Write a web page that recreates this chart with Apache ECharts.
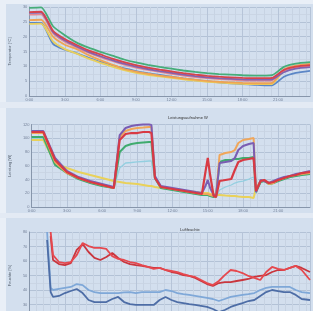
<!DOCTYPE html>
<html>
<head>
<meta charset="utf-8">
<title>Messwerte</title>
<script src="https://cdn.jsdelivr.net/npm/echarts@6/dist/echarts.min.js"></script>
<style>
html,body{margin:0;padding:0;overflow:hidden;background:#d3dfee;}
#chart{width:313px;height:330px;}
</style>
</head>
<body>
<div id="chart"></div>
<script>
// Temperatur (oben)
var hours1 = [0,1,2,3,4,5,6,7,8,9,10,11,12,13,14,15,16,17,18,19,20,20.5,21.5,22.5,23.7];
var temp1 = [29.7,29.9,23.5,20.5,18.0,16.3,14.9,13.6,12.3,11.3,10.5,9.8,9.2,8.6,8.1,7.7,7.4,7.2,7.0,6.9,6.9,7.0,9.8,10.9,11.4];
var temp2 = [28.3,28.4,22.0,19.2,17.2,15.4,14.0,12.6,11.4,10.4,9.6,8.9,8.3,7.7,7.2,6.8,6.5,6.3,6.1,6.0,6.0,6.1,8.8,9.9,10.4];
var temp3 = [28.0,28.1,21.6,18.7,16.7,14.9,13.4,12.1,10.9,9.9,9.1,8.4,7.8,7.2,6.7,6.3,6.0,5.8,5.6,5.5,5.5,5.6,8.0,9.2,9.7];
var temp4 = [27.4,27.5,21.2,18.3,16.4,14.6,13.1,11.8,10.6,9.6,8.8,8.1,7.5,6.9,6.4,6.0,5.7,5.5,5.3,5.2,5.2,5.3,8.4,9.6,10.2];
var temp5 = [25.6,25.7,20.0,17.3,15.8,13.8,12.1,10.6,9.1,8.2,7.5,6.9,6.4,5.9,5.5,5.1,4.8,4.6,4.4,4.3,4.3,4.4,8.9,10.2,10.8];
var temp6 = [24.3,24.4,18.4,15.8,14.3,12.6,11.2,9.9,8.7,7.8,7.1,6.6,6.1,5.6,5.2,4.8,4.5,4.3,4.1,4.0,4.0,4.1,8.5,9.8,10.5];
var temp7 = [24.6,24.6,17.6,15.6,14.4,12.9,11.5,10.3,9.3,8.4,7.7,7.1,6.5,5.9,5.4,5.0,4.6,4.3,4.0,3.8,3.6,3.6,6.5,7.8,8.5];

// Leistungsaufnahme (Mitte)
var hours2 = [0,1,2,3,4,5,6,7,7.1,7.5,8,8.5,9,9.5,10,10.2,10.5,11,12,13,14,14.5,14.8,15,15.2,15.5,15.7,16,16.5,17,17.3,17.6,18,18.5,18.9,19.1,19.5,19.8,20.2,20.6,21,21.5,22,22.5,23,23.7];
var powRed = [109.1,109.1,68.4,50.9,42.2,36.4,32,27.6,29.1,97.5,106.2,107.6,107.6,109.1,109.1,107.6,42.2,29.1,26.2,23.3,20.4,18.9,50.9,71.3,46.5,16,14.5,37.8,39.3,40.7,53.8,65.5,68.4,69.8,71.3,23.3,37.8,39.3,34.9,36.4,39.3,42.2,45.1,46.5,49.4,50.9];
var powPurple = [110.5,110.5,71.3,52.4,43.6,37.8,33.5,29.1,30.5,104.7,114.9,117.8,119.3,120,120,119.3,45.1,30.5,27.6,24.7,21.8,20.4,30.5,39.3,27.6,17.5,16,64,65.5,66.9,71.3,82.9,88.7,91.6,93.1,21.8,39.3,37.8,34.9,37.8,40.7,43.6,45.1,48,49.4,52.4];
var powOrange = [107.6,107.6,65.5,49.4,42.2,36.4,32,27.6,29.1,101.8,110.5,113.5,114.9,115.6,116.4,116.4,43.6,29.1,26.2,23.3,20.4,18.9,18.9,18.9,17.5,16,14.5,75.6,78.5,80,82.9,93.1,97.5,98.9,100.4,24.7,37.8,39.3,33.5,34.9,39.3,42.2,45.1,46.5,48,49.4];
var powGreen = [101.8,101.8,61.1,49.4,40.7,34.9,30.5,27.6,29.1,80,88.7,91.6,93.1,93.8,94.5,94.5,42.2,27.6,24.7,21.8,18.9,17.5,17.5,17.5,16,14.5,14.5,65.5,68.4,68.4,69.8,69.8,71.3,71.3,72.7,21.8,36.4,37.8,33.5,34.9,37.8,40.7,43.6,45.1,46.5,48];
var powCyan = [100.4,100.4,64,49.4,40.7,34.9,30.5,27.6,29.1,56.7,64,64.7,65.5,66.2,66.9,66.9,40.7,27.6,24.7,21.8,18.9,17.5,17.5,17.5,16,14.5,14.5,24.7,29.1,32,34.9,36.4,37.8,40.7,43.6,20.4,36.4,37.8,33.5,34.9,37.8,40.7,43.6,45.1,46.5,48];
var powYellow = [97.5,97.5,64,56.7,50.9,46.5,42.2,37.8,37.8,36.4,34.9,34.2,33.5,32,30.5,30.5,29.1,27.6,26.2,23.3,21.8,20.4,20.4,20.4,18.9,18.9,17.5,17.5,16.7,16,16,15.3,14.5,14.5,13.1,27.6,37.8,37.8,33.5,34.9,39.3,42.2,43.6,46.5,48,49.4];

// Luftfeuchte (unten)
var hours3 = [1.3,1.5,1.8,2,2.5,3,3.5,4,4.5,5,5.5,6,6.5,7,7.5,8,8.5,9,9.5,10,10.5,11,11.5,12,12.5,13,13.5,14,14.5,15,15.5,16,16.5,17,17.5,18,18.5,19,19.5,20,20.5,21,21.5,22,22.5,23,23.7];
var humRedA = [null,null,80,64.1,59.3,58.6,59.3,64.1,72.4,70.3,69,69,68.3,63.4,61.4,60.7,59.3,58.6,57.2,55.9,54.5,55.2,53.8,53.1,52.4,51,49.7,49,46.9,44.8,43.4,46.2,50.3,53.8,53.1,51.7,49.7,48.3,46.9,52.4,55.9,54.5,53.8,55.2,56.6,53.8,46.9];
var humRedB = [null,null,77.2,60.7,57.9,57.2,58.6,67.6,71.7,66.2,62.1,60.7,62.8,65.5,62.1,59.3,57.9,57.2,56.6,55.9,55.2,55.2,53.8,52.4,51.7,50.3,49.7,48.3,46.2,44.1,42.8,44.8,45.5,45.5,46.2,46.9,47.6,49,49.7,50.3,52.4,53.8,53.8,55.2,56.6,55.2,52.4];
var humBlueA = [null,80,41.4,40,40.7,41.4,42.1,44.1,43.4,40,38.6,37.9,37.9,37.9,37.9,38.3,38.6,37.9,38.6,38.6,38.6,38.6,40,39.3,37.9,37.2,36.6,35.9,35.2,34.5,33.8,32.4,33.8,35.2,35.9,36.6,37.2,37.9,40,41.4,42.1,42.1,42.1,42.1,40,38.6,37.9];
var humBlueB = [null,74.5,38.6,35.2,35.9,37.9,39.3,40.7,37.9,33.1,31.7,31.7,31.7,33.8,35.2,31.7,30.3,29.7,29.7,29.7,29.7,33.1,35.2,33.1,31.7,31,30.3,29.7,29,28.3,26.9,24.8,26.2,28.3,29.7,31,32.4,33.1,35.9,38.6,40,39.3,38.6,38.6,36.6,33.8,33.1];

var hourTicks = 3;

function pts(t, v) {
  return t.map(function (x, i) { return [x, v[i] == null ? '-' : v[i]]; });
}

function xAx(idx) {
  return {
    type: 'value', gridIndex: idx, min: 0, max: 23.7, interval: hourTicks,
    axisLine: {show: true, onZero: false, lineStyle: {color: '#8796ab', width: 1}},
    axisTick: {show: false},
    axisLabel: {fontSize: 4, color: '#75829a', margin: 2,
      formatter: function (v) { return v % hourTicks === 0 ? v + ':00' : ''; }},
    splitLine: {show: true, lineStyle: {color: '#b6c4d8', width: 1}},
    minorTick: {show: false, splitNumber: 5},
    minorSplitLine: {show: true, lineStyle: {color: '#c7d3e3', width: 1}}
  };
}

function yAx(idx, min, max, step, name) {
  return {
    type: 'value', gridIndex: idx, min: min, max: max, interval: step,
    name: name, nameLocation: 'middle', nameGap: 7,
    nameTextStyle: {fontSize: 4, color: '#55606e'},
    axisLine: {show: true, lineStyle: {color: '#8796ab', width: 1}},
    axisTick: {show: false},
    axisLabel: {fontSize: 4, color: '#75829a', margin: 2},
    splitLine: {show: true, lineStyle: {color: '#b3c2d6', width: 1}},
    minorTick: {show: false, splitNumber: 2},
    minorSplitLine: {show: true, lineStyle: {color: '#cad5e4', width: 1}}
  };
}

function line(name, t, v, color, grid, width, smooth) {
  return {
    name: name, type: 'line', xAxisIndex: grid, yAxisIndex: grid,
    data: pts(t, v), showSymbol: false, smooth: smooth || false,
    connectNulls: false, clip: false,
    lineStyle: {color: color, width: width}, itemStyle: {color: color}
  };
}

var chart = echarts.init(document.getElementById('chart'), null, {renderer: 'canvas'});
var option = {
  animation: false,
  backgroundColor: '#d3dfee',
  title: [
    {text: 'Leistungsaufnahme W', left: 163, top: 111, textStyle: {fontSize: 4, color: '#333', fontWeight: 'normal'}},
    {text: 'Luftfeuchte', left: 175, top: 223, textStyle: {fontSize: 4, color: '#333', fontWeight: 'normal'}}
  ],
  graphic: [
    {type: 'rect', shape: {x: 0, y: 0, width: 6, height: 330}, style: {fill: '#e9eff7'}, silent: true},
    {type: 'rect', shape: {x: 0, y: 0, width: 313, height: 4}, style: {fill: '#e9eff7'}, silent: true},
    {type: 'rect', shape: {x: 0, y: 102, width: 313, height: 6}, style: {fill: '#e3eaf4'}, silent: true},
    {type: 'rect', shape: {x: 0, y: 213, width: 313, height: 5}, style: {fill: '#e3eaf4'}, silent: true}
  ],
  grid: [
    {left: 19, top: 7, right: 0, height: 89, show: true, backgroundColor: '#d3dfee', borderWidth: 0},
    {left: 19, top: 124.5, right: 0, height: 82.5, show: true, backgroundColor: '#d3dfee', borderWidth: 0},
    {left: 19, top: 232, right: 0, height: 87, show: true, backgroundColor: '#d3dfee', borderWidth: 0}
  ],
  xAxis: [xAx(0), xAx(1), xAx(2)],
  yAxis: [
    yAx(0, 0, 30, 5, 'Temperatur [°C]'),
    yAx(1, 0, 120, 20, 'Leistung [W]'),
    yAx(2, 20, 80, 10, 'Feuchte [%]')
  ],
  series: [
    line('T1', hours1, temp7, '#5b86c6', 0, 1.8, 0.2),
    line('T2', hours1, temp6, '#e8cf5c', 0, 1.8, 0.2),
    line('T3', hours1, temp5, '#efa354', 0, 1.8, 0.2),
    line('T4', hours1, temp4, '#e48a93', 0, 1.8, 0.2),
    line('T5', hours1, temp3, '#8062b0', 0, 1.8, 0.2),
    line('T6', hours1, temp2, '#d6444c', 0, 1.8, 0.2),
    line('T7', hours1, temp1, '#46ad79', 0, 1.8, 0.2),

    line('P1', hours2, powYellow, '#e9d15a', 1, 2),
    line('P2', hours2, powCyan, '#93cfe0', 1, 1.3),
    line('P3', hours2, powGreen, '#3fab6e', 1, 2),
    line('P4', hours2, powOrange, '#f0a65a', 1, 2),
    line('P5', hours2, powPurple, '#7a5db3', 1, 2),
    line('P6', hours2, powRed, '#d83a44', 1, 2.2),

    line('F1', hours3, humBlueA, '#7fa8d8', 2, 1.8),
    line('F2', hours3, humBlueB, '#4d6da6', 2, 1.8),
    line('F3', hours3, humRedB, '#c9363e', 2, 1.8),
    line('F4', hours3, humRedA, '#e6484e', 2, 1.8)
  ]
};
chart.setOption(option);
</script>
</body>
</html>
